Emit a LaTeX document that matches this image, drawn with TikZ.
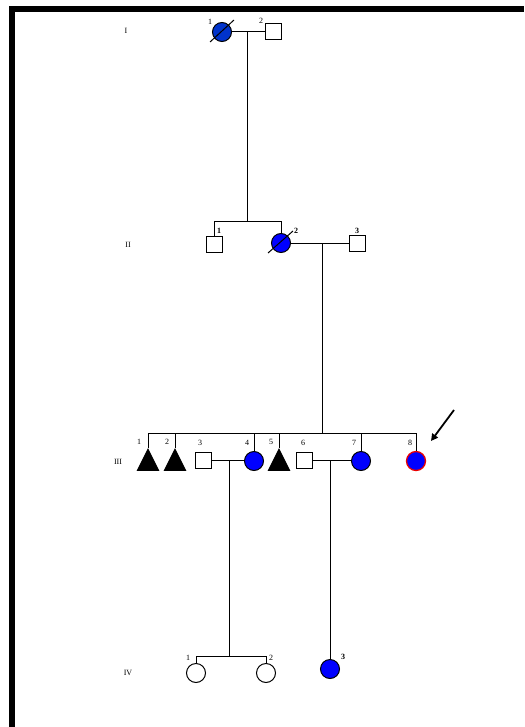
\documentclass[tikz,border=0pt]{standalone}
\usepackage{fontspec}
\setmainfont{Liberation Serif}
\usetikzlibrary{shapes.geometric,arrows.meta}
\definecolor{blueA}{RGB}{0,51,204}
\definecolor{blueB}{RGB}{0,0,255}
\definecolor{probred}{RGB}{235,0,0}
\begin{document}
\begin{tikzpicture}[x=1pt,y=-1pt,line width=1pt,
  male/.style={rectangle,draw,fill=white,minimum size=16pt,inner sep=0pt},
  female/.style={circle,draw,fill=white,minimum size=19pt,inner sep=0pt},
  affA/.style={fill=blueA},
  affB/.style={fill=blueB},
  tri/.style={isosceles triangle,shape border rotate=90,isosceles triangle stretches,
    minimum width=21pt,minimum height=21pt,inner sep=0pt,fill=black,draw=black,anchor=apex},
  lbl/.style={font=\fontsize{8}{9}\selectfont,inner sep=0pt},
  blbl/.style={font=\fontsize{8}{9}\selectfont\bfseries,inner sep=0pt},
  gen/.style={font=\fontsize{8}{9}\selectfont,inner sep=0pt},
  diag/.style={line width=1pt}]
\useasboundingbox (0,0) rectangle (524,727);
% frame
\fill[black] (9,6) rectangle (15,727);
\fill[black] (9,6) rectangle (524,12);
% generation labels
\node[gen] (gI) at (126,31) {I};
\node[gen] (gII) at (128,245) {II};
\node[gen] (gIII) at (118,462) {III};
\node[gen] (gIV) at (128,673) {IV};
% Generation I
\node[female,affA] (I1) at (222,32) {};
\node[male] (I2) at (273,32) {};
\draw[diag] (I1.center) ++(-12,10) -- ++(24,-22);
\node[lbl] (lI1) at (210,22) {1};
\node[lbl] (lI2) at (261,21) {2};
\coordinate (m1) at (247,32);
\draw (I1.east) -- (I2.west);
% Generation II
\node[male] (II1) at (214,244) {};
\node[female,affB] (II2) at (281,243) {};
\node[male] (II3) at (357,243) {};
\draw[diag] (II2.center) ++(-13,10) -- ++(25,-22);
\node[blbl] (lII1) at (219,231) {1};
\node[blbl] (lII2) at (296,231) {2};
\node[blbl] (lII3) at (357,231) {3};
\coordinate (s2) at (247,221);
\draw (m1) -- (s2);
\draw (II1.north) -- (II1.north |- s2) -- (II2.north |- s2) -- (II2.north);
\draw (II2.east) -- (II2.east -| II3.west);
\coordinate (m2) at (322,243);
\coordinate (s3) at (322,433);
\draw (m2) -- (s3);
% Generation III
\node[tri] (III1) at (148,448) {};
\node[tri] (III2) at (175,448) {};
\node[male] (III3) at (203,460) {};
\node[female,affB] (III4) at (254,461) {};
\node[tri] (III5) at (279,448) {};
\node[male] (III6) at (304,460) {};
\node[female,affB] (III7) at (361,461) {};
\node[female,affB,draw=probred,line width=1.3pt] (III8) at (416,461) {};
\draw (III1.apex) -- (III1.apex |- s3) -- (III8.north |- s3) -- (III8.north);
\draw (III2.apex) -- (III2.apex |- s3);
\draw (III4.north) -- (III4.north |- s3);
\draw (III5.apex) -- (III5.apex |- s3);
\draw (III7.north) -- (III7.north |- s3);
\node[lbl] (lIII1) at (139,442) {1};
\node[lbl] (lIII2) at (167,442) {2};
\node[lbl] (lIII3) at (200,443) {3};
\node[lbl] (lIII4) at (247,443) {4};
\node[lbl] (lIII5) at (271,442) {5};
\node[lbl] (lIII6) at (303,443) {6};
\node[lbl] (lIII7) at (354,443) {7};
\node[lbl] (lIII8) at (410,443) {8};
\draw (III3.east) -- (III3.east -| III4.west);
\draw (III6.east) -- (III6.east -| III7.west);
\coordinate (m3) at (229,460);
\coordinate (m4) at (330,460);
\coordinate (s4) at (229,656);
% proband arrow
\coordinate (arS) at (454,410);
\coordinate (arE) at (431,441);
\draw[line width=1.8pt,-{Triangle[length=7pt,width=7pt]}] (arS) -- (arE);
% Generation IV
\node[female] (IV1) at (196,673) {};
\node[female] (IV2) at (266,673) {};
\node[female,affB] (IV3) at (330,669) {};
\draw (m3) -- (s4);
\draw (IV1.north) -- (IV1.north |- s4) -- (IV2.north |- s4) -- (IV2.north);
\draw (m4) -- (IV3.north);
\node[lbl] (lIV1) at (188,658) {1};
\node[lbl] (lIV2) at (271,658) {2};
\node[blbl] (lIV3) at (343,657) {3};
\end{tikzpicture}
\end{document}
